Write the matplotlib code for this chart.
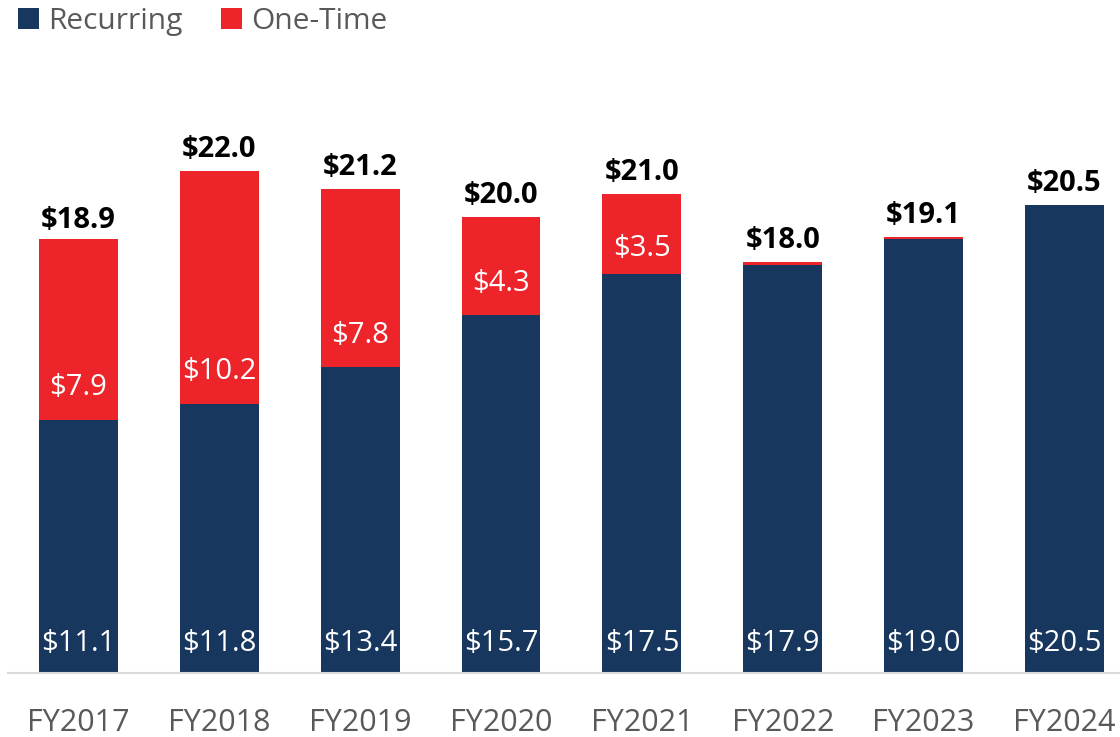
import matplotlib.pyplot as plt
import numpy as np

years = ["FY2017", "FY2018", "FY2019", "FY2020", "FY2021", "FY2022", "FY2023", "FY2024"]
recurring = [11.1, 11.8, 13.4, 15.7, 17.5, 17.9, 19.0, 20.5]
one_time = [7.9, 10.2, 7.8, 4.3, 3.5, 0.1, 0.1, 0.0]
totals = [18.9, 22.0, 21.2, 20.0, 21.0, 18.0, 19.1, 20.5]

navy = "#17375e"
red = "#ee242b"
gray = "#595959"

plt.rcParams['font.family'] = ['Open Sans', 'DejaVu Sans']

fig = plt.figure(figsize=(11.2, 7.37), dpi=100)
ax = fig.add_axes([8 / 1120, 64 / 737, 1112 / 1120, 502 / 737])

x = np.arange(len(years))
w = 0.56
ax.bar(x, recurring, w, color=navy, label="Recurring", zorder=2)
ax.bar(x, one_time, w, bottom=recurring, color=red, label="One-Time", zorder=2)

for i in range(len(years)):
    ax.text(x[i], 1.3, f"${recurring[i]:.1f}", ha="center", va="center",
            color="white", fontsize=21)
    if one_time[i] >= 1:
        off = min(1.4, one_time[i] * 0.32)
        ax.text(x[i], recurring[i] + off, f"${one_time[i]:.1f}",
                ha="center", va="center", color="white", fontsize=21)
    ax.text(x[i], totals[i] + 0.3, f"${totals[i]:.1f}", ha="center", va="bottom",
            color="black", fontsize=21, fontweight="bold", clip_on=False)

ax.set_xlim(-0.5, 7.394)
ax.set_ylim(0, 22)
ax.set_xticks(x)
ax.set_xticklabels(years, fontsize=22, color=gray)
ax.tick_params(axis="x", length=0, pad=25)
ax.set_yticks([])
for s in ["top", "right", "left"]:
    ax.spines[s].set_visible(False)
ax.spines["bottom"].set_color("#d9d9d9")
ax.spines["bottom"].set_linewidth(1.5)

fig.legend(loc="upper left", bbox_to_anchor=(0.0, 1.015), ncol=2, frameon=False,
           fontsize=21.5, labelcolor=gray, handlelength=0.7, handleheight=0.7,
           handletextpad=0.3, columnspacing=1.3, borderaxespad=0.2)

fig.savefig("out.png", dpi=100)
